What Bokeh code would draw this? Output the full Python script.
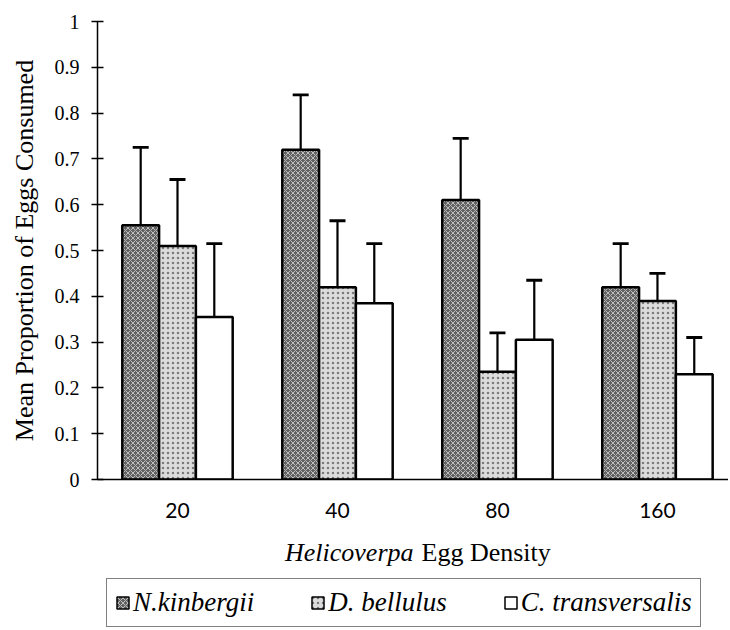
import numpy as np
from bokeh.plotting import figure
from bokeh.layouts import column
from bokeh.models import (ColumnDataSource, Range1d, FixedTicker, Whisker, TeeHead,
                          Legend, LegendItem, Label)
from bokeh.embed import file_html
from bokeh.resources import INLINE

# ---- data ----
densities = ["20", "40", "80", "160"]
species = ["N.kinbergii", "D. bellulus", "C. transversalis"]
nk_mean = [0.555, 0.72, 0.61, 0.42]
nk_se = [0.17, 0.12, 0.135, 0.095]
db_mean = [0.51, 0.42, 0.235, 0.39]
db_se = [0.145, 0.145, 0.085, 0.06]
ct_mean = [0.355, 0.385, 0.305, 0.23]
ct_se = [0.16, 0.13, 0.13, 0.08]
y_ticks = [0, 0.1, 0.2, 0.3, 0.4, 0.5, 0.6, 0.7, 0.8, 0.9, 1]
y_tick_labels = ["0", "0.1", "0.2", "0.3", "0.4", "0.5", "0.6", "0.7", "0.8", "0.9", "1"]

# ---- layout constants ----
W = 728
LEFT = 97
X_END = 3.944
BAR_W = 0.23
offsets = [-BAR_W, 0.0, BAR_W]

p = figure(width=W, height=529, x_range=Range1d(0, X_END), y_range=Range1d(0, 1),
           output_backend="svg", toolbar_location=None, tools="",
           min_border_left=LEFT, min_border_right=0, min_border_top=21, min_border_bottom=50)
p.outline_line_color = None
p.grid.visible = False

centers = [i + 0.5 for i in range(len(densities))]

styles = [
    dict(fill_color="#626262", hatch_pattern="diagonal_cross", hatch_color="#bdbdbd",
         hatch_scale=5, hatch_weight=1),
    dict(fill_color="#dcdcdc", hatch_pattern="dot", hatch_color="#7a7a7a",
         hatch_scale=5, hatch_weight=1),
    dict(fill_color="white"),
]

for k, (means, ses) in enumerate([(nk_mean, nk_se), (db_mean, db_se), (ct_mean, ct_se)]):
    src = ColumnDataSource(dict(
        x=[c + offsets[k] for c in centers],
        top=means,
        upper=[m + s for m, s in zip(means, ses)],
    ))
    p.vbar(x="x", top="top", bottom=0, width=BAR_W, source=src,
           line_color="black", line_width=2.5, **styles[k])
    w = Whisker(source=src, base="x", lower="top", upper="upper", dimension="height",
                line_color="black", line_width=2.2, lower_head=None,
                upper_head=TeeHead(size=16, line_color="black", line_width=2.8))
    p.add_layout(w)

# ---- axes ----
yax = p.yaxis[0]
yax.ticker = FixedTicker(ticks=y_ticks)
yax.major_label_overrides = {t: l for t, l in zip(y_ticks, y_tick_labels)}
yax.major_tick_in = 6
yax.major_tick_out = 6
yax.minor_tick_line_color = None
yax.axis_line_width = 1.5
yax.axis_line_color = "black"
yax.major_tick_line_width = 1.5
yax.major_tick_line_color = "black"
yax.major_label_text_font = "Liberation Serif"
yax.major_label_text_font_size = "20px"
yax.major_label_text_color = "black"
yax.major_label_standoff = 12
yax.axis_label = "Mean Proportion of Eggs Consumed"
yax.axis_label_text_font = "Liberation Serif"
yax.axis_label_text_font_size = "26px"
yax.axis_label_text_font_style = "normal"
yax.axis_label_text_color = "black"
yax.axis_label_standoff = 13

xax = p.xaxis[0]
xax.ticker = FixedTicker(ticks=centers)
xax.major_label_overrides = {c: d for c, d in zip(centers, densities)}
xax.major_tick_in = 0
xax.major_tick_out = 0
xax.minor_tick_line_color = None
xax.axis_line_width = 1.5
xax.axis_line_color = "black"
xax.major_label_text_font = "Lato"
xax.major_label_text_font_size = "21px"
xax.major_label_text_color = "black"
xax.major_label_standoff = 23

# ---- bottom panel: x axis title and legend (pixel coordinates) ----
H2 = 99
q = figure(width=W, height=H2, x_range=Range1d(LEFT, W), y_range=Range1d(H2, 0),
           output_backend="svg", toolbar_location=None, tools="",
           min_border_left=LEFT, min_border_right=0, min_border_top=0, min_border_bottom=0)
q.axis.visible = False
q.grid.visible = False
q.outline_line_color = None

q.add_layout(Label(x=413, y=23, text="Helicoverpa", text_align="right",
                   text_baseline="alphabetic", text_font="Liberation Serif",
                   text_font_style="italic", text_font_size="26px", text_color="black"))
q.add_layout(Label(x=421, y=23, text="Egg Density", text_align="left",
                   text_baseline="alphabetic", text_font="Liberation Serif",
                   text_font_style="normal", text_font_size="26px", text_color="black"))

# legend proxies: bars with no drawable value (NaN), used only for legend swatches
proxy = ColumnDataSource(dict(x=np.array([np.nan]), top=np.array([np.nan])))
legend_renderers = [q.vbar(x="x", top="top", bottom=0, width=1, source=proxy,
                           line_color="black", line_width=1.5, **st) for st in styles]

legend = Legend(items=[LegendItem(label=s, renderers=[r]) for s, r in zip(species, legend_renderers)],
                orientation="horizontal", location=(9, 1), margin=0,
                glyph_width=15, glyph_height=15, label_standoff=3, spacing=56, padding=8,
                label_text_font="Liberation Serif", label_text_font_style="italic",
                label_text_font_size="27px", label_text_color="black",
                border_line_color="black", border_line_width=1.5,
                background_fill_color="white", background_fill_alpha=1.0)
q.add_layout(legend)

layout = column(p, q, spacing=0)
open("out.html", "w").write(file_html(layout, INLINE))
